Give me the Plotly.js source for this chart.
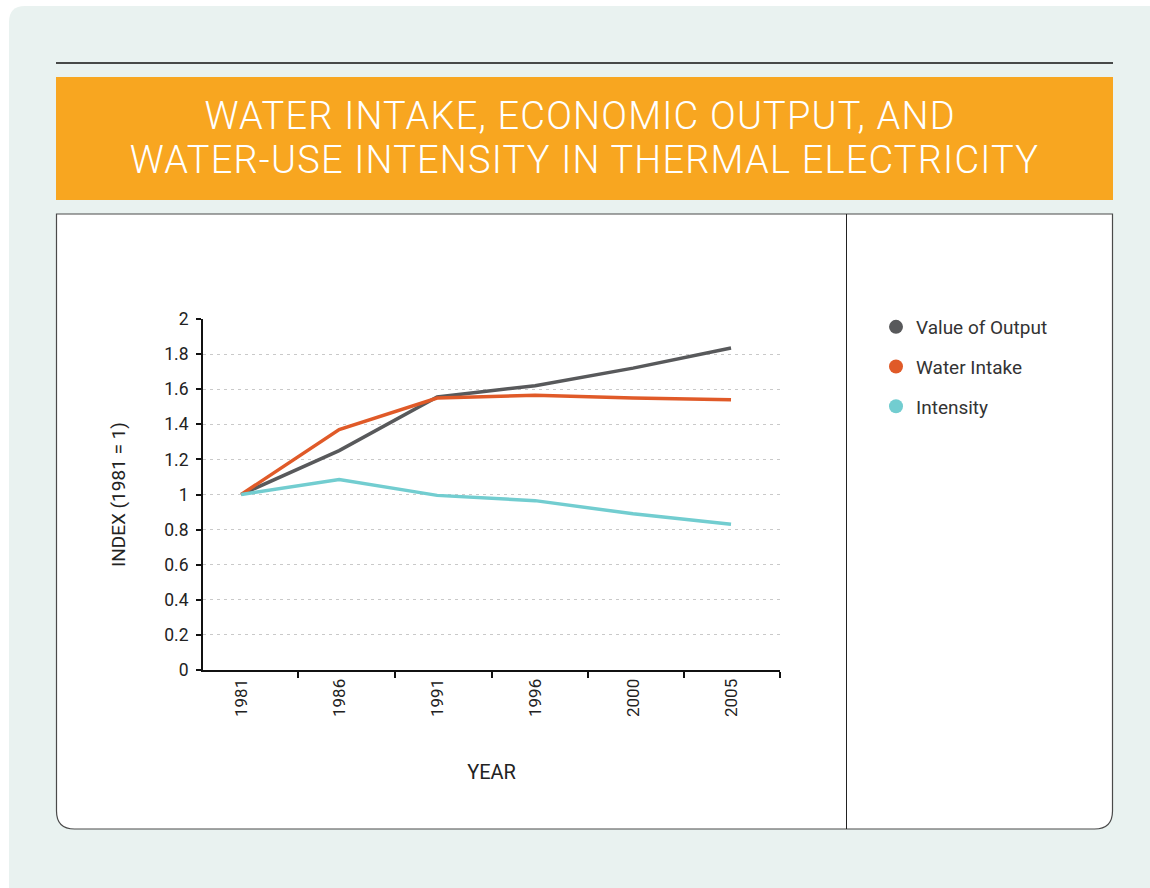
<!DOCTYPE html>
<html>
<head>
<meta charset="utf-8">
<script src="https://cdn.plot.ly/plotly-3.0.1.min.js"></script>
<style>
  html, body { margin: 0; padding: 0; background: #ffffff; }
  #chart { width: 1150px; height: 888px; }
  #chart g.annotation text { letter-spacing: 1.2px; }
</style>
</head>
<body>
<div id="chart"></div>
<script>
// ---- Data ----
var years = ["1981", "1986", "1991", "1996", "2000", "2005"];
var valueOfOutput = [1.00, 1.25, 1.556, 1.62, 1.72, 1.835];
var waterIntake   = [1.00, 1.37, 1.55, 1.565, 1.55, 1.54];
var intensity     = [1.00, 1.085, 0.995, 0.965, 0.89, 0.83];
var seriesNames   = ["Value of Output", "Water Intake", "Intensity"];
var yTicks        = [0, 0.2, 0.4, 0.6, 0.8, 1, 1.2, 1.4, 1.6, 1.8, 2];
var titleLines    = ["WATER INTAKE, ECONOMIC OUTPUT, AND",
                     "WATER-USE INTENSITY IN THERMAL ELECTRICITY"];

// ---- Styles ----
var FONT = "Roboto, 'Noto Sans', sans-serif";
var colors = ["#58595b", "#e05a28", "#72cdd0"];
var W = 1150, H = 888;
function px(x) { return x / W; }
function py(y) { return 1 - y / H; }

var idx = years.map(function (_, i) { return i; });
var allSeries = [valueOfOutput, waterIntake, intensity];

var traces = [];
allSeries.forEach(function (vals, k) {
  traces.push({
    x: idx, y: vals, type: "scatter", mode: "lines",
    line: { color: colors[k], width: 3.5 },
    showlegend: false, hoverinfo: "skip"
  });
});
allSeries.forEach(function (vals, k) {
  traces.push({
    x: [null], y: [null], type: "scatter", mode: "markers",
    name: seriesNames[k], legendgroup: "g" + k,
    marker: { color: colors[k], size: 14, symbol: "circle" }
  });
});

function rr(x0, y0, x1, y1, r) {
  return "M" + px(x0 + r) + "," + py(y0) +
    " L" + px(x1 - r) + "," + py(y0) +
    " Q" + px(x1) + "," + py(y0) + " " + px(x1) + "," + py(y0 + r) +
    " L" + px(x1) + "," + py(y1 - r) +
    " Q" + px(x1) + "," + py(y1) + " " + px(x1 - r) + "," + py(y1) +
    " L" + px(x0 + r) + "," + py(y1) +
    " Q" + px(x0) + "," + py(y1) + " " + px(x0) + "," + py(y1 - r) +
    " L" + px(x0) + "," + py(y0 + r) +
    " Q" + px(x0) + "," + py(y0) + " " + px(x0 + r) + "," + py(y0) + " Z";
}
function boxBottomRounded(x0, y0, x1, y1, r) {
  return "M" + px(x0) + "," + py(y0) +
    " L" + px(x1) + "," + py(y0) +
    " L" + px(x1) + "," + py(y1 - r) +
    " Q" + px(x1) + "," + py(y1) + " " + px(x1 - r) + "," + py(y1) +
    " L" + px(x0 + r) + "," + py(y1) +
    " Q" + px(x0) + "," + py(y1) + " " + px(x0) + "," + py(y1 - r) + " Z";
}

var shapes = [
  { type: "path", xref: "paper", yref: "paper", layer: "below",
    path: rr(9, 6, 1165, 905, 16), fillcolor: "#e9f2f0", line: { width: 0 } },
  { type: "line", xref: "paper", yref: "paper", layer: "below",
    x0: px(56), x1: px(1113), y0: py(63), y1: py(63), line: { color: "#111", width: 1.5 } },
  { type: "rect", xref: "paper", yref: "paper", layer: "below",
    x0: px(56), x1: px(1113), y0: py(77), y1: py(200), fillcolor: "#f8a620", line: { width: 0 } },
  { type: "path", xref: "paper", yref: "paper", layer: "below",
    path: boxBottomRounded(56.5, 214, 1112.5, 829, 18), fillcolor: "#ffffff",
    line: { color: "#4a4a4a", width: 1.2 } },
  { type: "line", xref: "paper", yref: "paper", layer: "below",
    x0: px(846.5), x1: px(846.5), y0: py(214), y1: py(829), line: { color: "#222", width: 1 } }
];

var titleY = [116, 160];
var titleX = [580, 585];
var annotations = titleLines.map(function (t, i) {
  return {
    text: t, xref: "paper", yref: "paper", x: px(titleX[i]), y: py(titleY[i]),
    xanchor: "center", yanchor: "middle", showarrow: false,
    font: { family: FONT, size: 38, color: "#ffffff", weight: 300 }
  };
});

var layout = {
  width: W, height: H,
  margin: { l: 0, r: 0, t: 0, b: 0, pad: 0 },
  paper_bgcolor: "#ffffff",
  plot_bgcolor: "rgba(0,0,0,0)",
  font: { family: FONT, color: "#222" },
  annotations: annotations,
  showlegend: true,
  legend: {
    x: px(876), y: py(308), xanchor: "left", yanchor: "top",
    font: { family: FONT, size: 19, color: "#333" },
    bgcolor: "rgba(0,0,0,0)", traceorder: "grouped", tracegroupgap: 12,
    itemclick: false, itemdoubleclick: false
  },
  xaxis: {
    domain: [px(203), px(780)],
    range: [-0.39, 5.5],
    tickmode: "array", tickvals: idx, ticktext: years, tickangle: -90,
    ticks: "", showgrid: false, zeroline: false,
    showline: true, linecolor: "#111", linewidth: 2,
    tickfont: { family: FONT, size: 17, color: "#222" },
    minor: { tickmode: "array", tickvals: [0.58, 1.57, 2.56, 3.54, 4.52, 5.5],
             ticks: "outside", ticklen: 6, tickwidth: 2, tickcolor: "#111", showgrid: false },
    title: { text: "YEAR", font: { family: FONT, size: 20, color: "#222" }, standoff: 49 },
    fixedrange: true
  },
  yaxis: {
    domain: [py(670), py(319)],
    range: [0, 2],
    tickmode: "array", tickvals: yTicks,
    ticks: "outside", ticklen: 5, tickwidth: 2, tickcolor: "#111",
    showline: true, linecolor: "#111", linewidth: 2,
    showgrid: true, gridcolor: "#c9c9c9", gridwidth: 1, griddash: "3px,4px",
    zeroline: false,
    tickfont: { family: FONT, size: 17.5, color: "#222" },
    ticklabelstandoff: 4,
    title: { text: "INDEX (1981 = 1)", font: { family: FONT, size: 19, color: "#222" }, standoff: 34 },
    fixedrange: true
  },
  shapes: shapes
};

Plotly.newPlot("chart", traces, layout, { displayModeBar: false, staticPlot: true });
</script>
</body>
</html>
